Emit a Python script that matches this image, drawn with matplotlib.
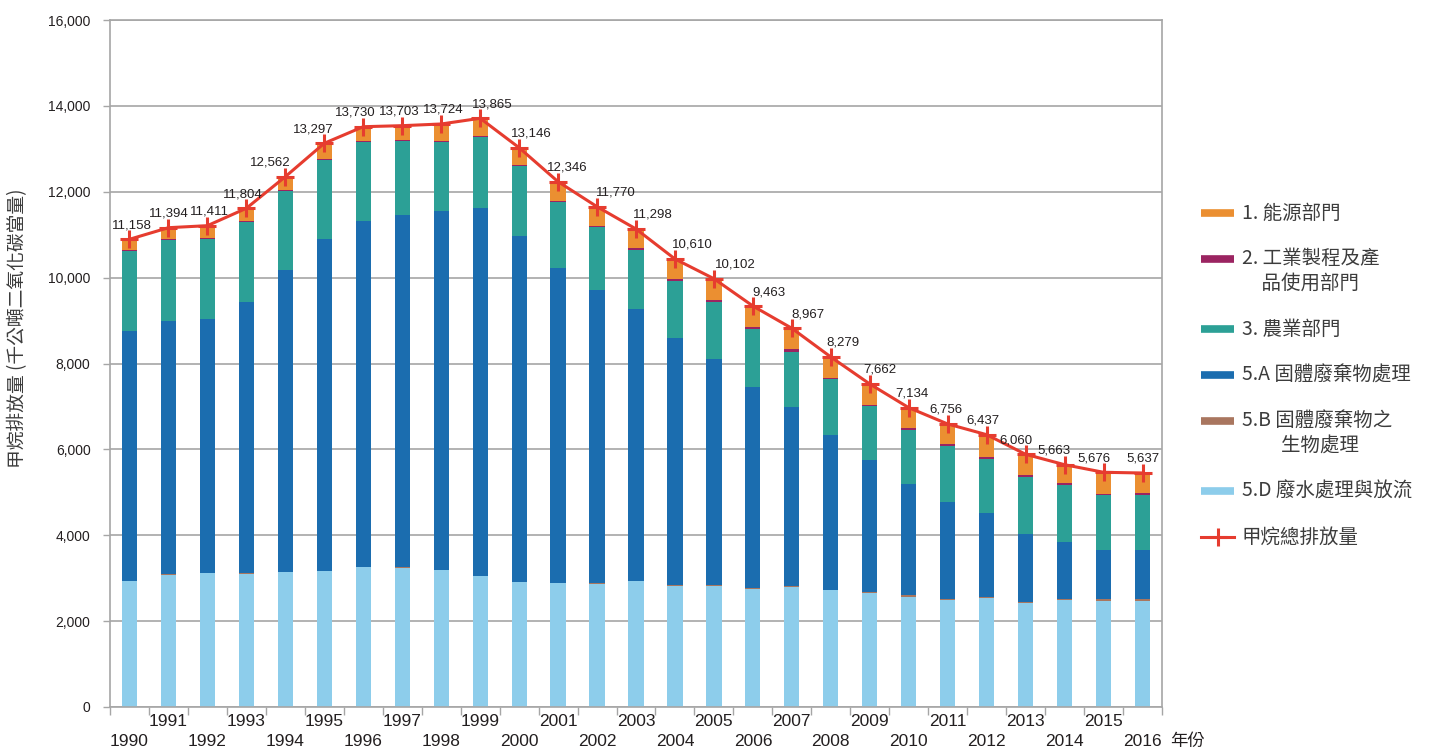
import matplotlib
matplotlib.use("Agg")
import matplotlib.pyplot as plt
from matplotlib.lines import Line2D
from matplotlib.transforms import blended_transform_factory
import numpy as np

plt.rcParams['font.family'] = ['Liberation Sans', 'Noto Sans CJK TC']

years = list(range(1990, 2017))

# 千公噸二氧化碳當量
energy = [253, 267, 285, 299, 313, 364, 329, 337, 392, 418, 406, 441, 448, 452,
          470, 491, 495, 490, 483, 483, 478, 475, 529, 491, 436, 494, 468]
industrial = [20, 20, 25, 20, 20, 25, 20, 20, 20, 25, 20, 25, 25, 30,
              35, 45, 40, 55, 30, 30, 35, 30, 30, 30, 30, 35, 45]
agriculture = [1856, 1879, 1856, 1857, 1840, 1840, 1847, 1723, 1614, 1639, 1623, 1544, 1467, 1382,
               1328, 1341, 1351, 1288, 1304, 1257, 1264, 1312, 1265, 1335, 1334, 1280, 1280]
solid_waste = [5824, 5910, 5918, 6329, 7029, 7728, 8053, 8202, 8356, 8573, 8061, 7331, 6835, 6329,
               5766, 5258, 4675, 4165, 3600, 3068, 2578, 2250, 1947, 1589, 1319, 1141, 1141]
bio_treat = [5, 5, 5, 5, 5, 5, 5, 20, 5, 5, 5, 5, 5, 5,
             10, 15, 23, 20, 10, 23, 47, 25, 25, 25, 25, 40, 40]
wastewater = [2935, 3082, 3121, 3105, 3144, 3167, 3261, 3237, 3191, 3051, 2911, 2888, 2872, 2935,
              2825, 2825, 2755, 2802, 2725, 2662, 2569, 2499, 2546, 2415, 2499, 2476, 2476]
total_labels = [11158, 11394, 11411, 11804, 12562, 13297, 13730, 13703, 13724, 13865, 13146, 12346,
                11770, 11298, 10610, 10102, 9463, 8967, 8279, 7662, 7134, 6756, 6437, 6060,
                5663, 5676, 5637]

legend_labels = ["1. 能源部門", "2. 工業製程及產\n　品使用部門", "3. 農業部門",
                 "5.A 固體廢棄物處理", "5.B 固體廢棄物之\n　　生物處理", "5.D 廢水處理與放流",
                 "甲烷總排放量"]

# label nudges in pixels (horizontal)
label_dx = [2, 0, 2, -4, -15, -11, -8, -3, 2, 12, 12, 9, 19, 17, 17, 21, 16, 16, 12, 10,
            3, -2, -4, -10, -11, -10, 0]

colors = ['#8DCDEB', '#A9765F', '#1B6DAF', '#2CA096', '#9B2461', '#EB8F31']
series = [wastewater, bio_treat, solid_waste, agriculture, industrial, energy]

fig = plt.figure(figsize=(14.3, 7.51), dpi=100)
ax = fig.add_axes([110 / 1430, 1 - 707 / 751, 1052 / 1430, 687 / 751])

x = np.arange(len(years))
bottom = np.zeros(len(years))
for vals, c in zip(series, colors):
    ax.bar(x, vals, 0.39, bottom=bottom, color=c, zorder=2)
    bottom += np.array(vals)

totals = bottom
ax.plot(x, totals, color='#E63C2F', lw=2.2, marker='+', ms=13, mew=2.2, zorder=3)
for i, (t, lab) in enumerate(zip(totals, total_labels)):
    ax.annotate(f"{lab:,}", (x[i], t), xytext=(label_dx[i], 14), textcoords='offset pixels',
                ha='center', va='center', fontsize=9.5, color='#231F20')

ax.set_xlim(-0.5, len(years) - 0.5)
ax.set_ylim(0, 16000)
ax.set_yticks(np.arange(0, 16001, 2000))
ax.set_yticklabels([f"{v:,}" for v in range(0, 16001, 2000)], fontsize=10, color='#231F20')
ax.yaxis.grid(True, color='#A6A6A6', lw=1.2)
ax.set_axisbelow(True)
ax.tick_params(axis='y', length=5, width=1, color='#A6A6A6', pad=9)

ax.set_xticks(np.arange(-0.5, len(years), 1))
ax.set_xticklabels([])
ax.tick_params(axis='x', length=6, width=1, color='#A6A6A6')

for s in ax.spines.values():
    s.set_color('#A6A6A6')
    s.set_linewidth(1.2)

tr = blended_transform_factory(ax.transData, ax.transAxes)
for i, yr in enumerate(years):
    off = -14 if yr % 2 else -34
    ax.annotate(str(yr), (x[i], 0), xycoords=tr, xytext=(0, off), textcoords='offset pixels',
                ha='center', va='center', fontsize=12.5, color='#231F20')
ax.annotate("年份", (1, 0), xycoords='axes fraction', xytext=(8, -34), textcoords='offset pixels',
            ha='left', va='center', fontsize=12.5, color='#231F20', family=['Noto Sans CJK TC'])

ax.set_ylabel("甲烷排放量 (千公噸二氧化碳當量)", fontsize=13.5, color='#3C3C3C',
              family=['Noto Sans CJK TC'])
ax.yaxis.set_label_coords((28 - 110) / 1052, (707 - 328) / 687)

# legend drawn by hand on the right
W, H = 1430, 751
ly = 213
leg_colors = ['#EB8F31', '#9B2461', '#2CA096', '#1B6DAF', '#A9765F', '#8DCDEB']
for k, lab in enumerate(legend_labels):
    yf = 1 - ly / H
    if k < len(leg_colors):
        fig.add_artist(Line2D([1201 / W, 1234 / W], [yf, yf], transform=fig.transFigure,
                              color=leg_colors[k], lw=5.5, solid_capstyle='butt'))
    else:
        fig.add_artist(Line2D([1201 / W, 1234 / W], [yf, yf], transform=fig.transFigure,
                              color='#E63C2F', lw=2.2))
        fig.add_artist(Line2D([1217.5 / W], [yf], transform=fig.transFigure, color='#E63C2F',
                              marker='+', ms=13, mew=2.2))
    lines = lab.split("\n")
    for j, ln in enumerate(lines):
        fig.text(1242 / W, 1 - (ly + 24 * j) / H, ln, ha='left', va='center', fontsize=14,
                 color='#3C3C3C', family=['Noto Sans CJK TC'])
    ly += 46 + 24 * (len(lines) - 1)

fig.savefig("out.png", dpi=100)
